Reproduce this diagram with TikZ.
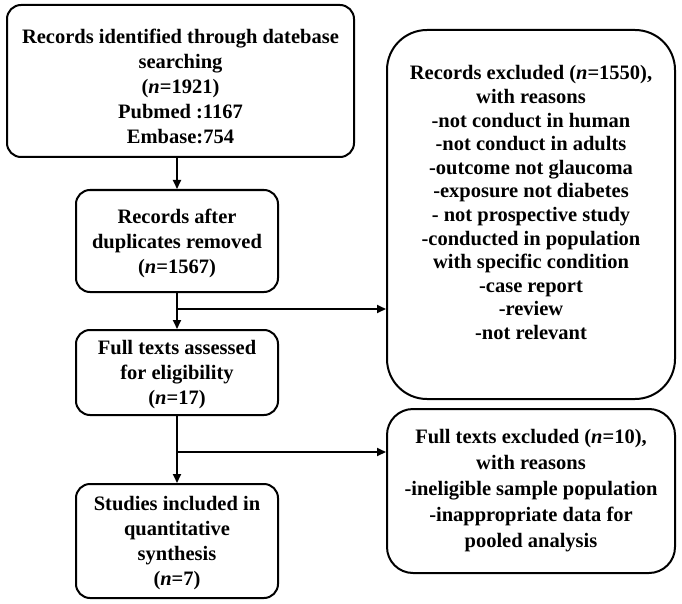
\documentclass[tikz,border=0pt]{standalone}
\usepackage{fontspec}
\setmainfont{Liberation Serif}
\usetikzlibrary{positioning,arrows.meta}

\tikzset{
    flowbox/.style = {draw, line width=2pt, rounded corners=14pt, align=center,
        inner sep=0pt, font=\fontsize{20.5}{25}\selectfont\bfseries},
    flowarrow/.style = {line width=2pt, -{Triangle[length=9pt,width=8pt]}}
}
\newcommand{\tallstrut}[1]{\rule{0pt}{#1}}

\begin{document}
\begin{tikzpicture}[x=1pt, y=1pt]

\useasboundingbox (0,0) rectangle (682,-604);

% left column
\node [flowbox, minimum width=347pt, minimum height=152pt] (ident) at (180.5,-81)
    {\tallstrut{25pt}Records identified through datebase\\ searching\\ (\textit{n}=1921)\\ Pubmed :1167\\ Embase:754};
\node [flowbox, minimum width=202pt, minimum height=102pt] (dup) at (177,-241)
    {\tallstrut{19pt}Records after\\ duplicates removed\\ (\textit{n}=1567)};
\node [flowbox, minimum width=202pt, minimum height=85pt] (full) at (177,-372.5)
    {\tallstrut{19pt}Full texts assessed\\ for eligibility\\ (\textit{n}=17)};
\node [flowbox, minimum width=202pt, minimum height=114pt] (incl) at (177,-541)
    {\tallstrut{19pt}Studies included in\\ quantitative\\ synthesis\\ (\textit{n}=7)};

% right column
\node [flowbox, rounded corners=40pt, minimum width=288pt, minimum height=369pt,
       text depth=24pt, font=\fontsize{20.5}{23.6}\selectfont\bfseries] (excla) at (531,-214.5)
    {Records excluded (\textit{n}=1550),\\ with reasons\\ -not conduct in human\\ -not conduct in adults\\
     -outcome not glaucoma\\ -exposure not diabetes\\ - not prospective study\\ -conducted in population\\
     with specific condition\\ -case report\\ -review\\ -not relevant};
\node [flowbox, rounded corners=26pt, minimum width=288pt, minimum height=164pt,
       font=\fontsize{20.5}{26}\selectfont\bfseries] (exclb) at (531,-491)
    {Full texts excluded (\textit{n}=10),\\ with reasons\\ -ineligible sample population\\ -inappropriate data for\\ pooled analysis};

% connectors
\coordinate (splita) at (177,-309);
\coordinate (splitb) at (177,-452);

\draw [flowarrow] (dup.north |- ident.south) -- (dup.north);
\draw [flowarrow] (dup.south) -- (full.north);
\draw [flowarrow] (splita) -- (splita -| excla.west);
\draw [flowarrow] (full.south) -- (incl.north);
\draw [flowarrow] (splitb) -- (splitb -| exclb.west);

\end{tikzpicture}
\end{document}
